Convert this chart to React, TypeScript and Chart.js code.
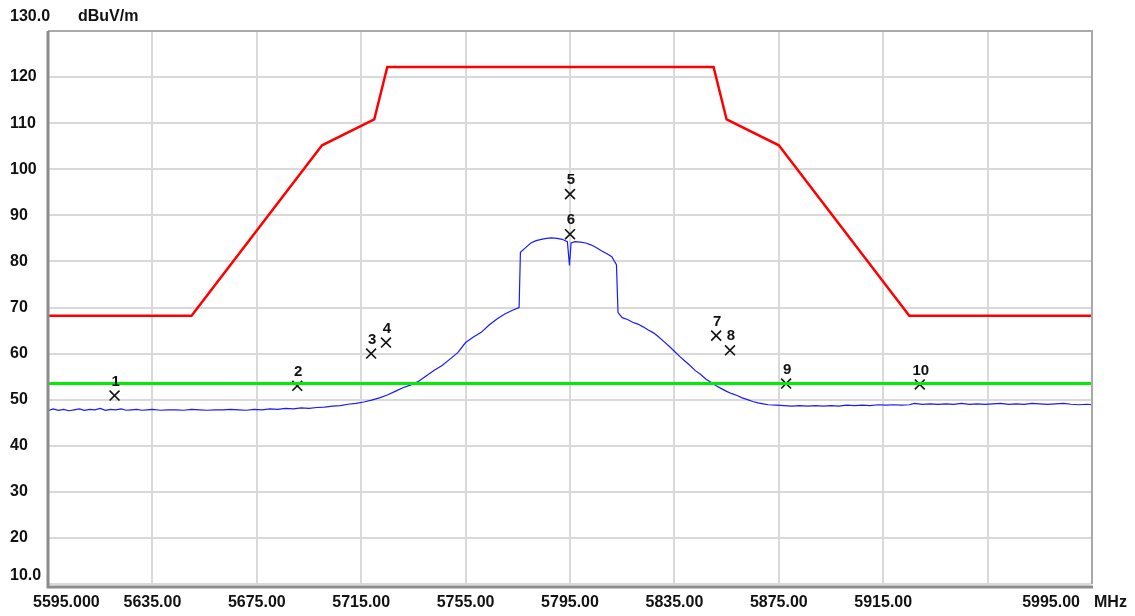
import React, { useEffect, useRef } from "react";
import { Chart, registerables } from "chart.js";

Chart.register(...registerables);

// Axis ticks
const xTicks = [5595, 5635, 5675, 5715, 5755, 5795, 5835, 5875, 5915, 5955, 5995];
const xTickLabels = ["5595.000", "5635.00", "5675.00", "5715.00", "5755.00", "5795.00", "5835.00", "5875.00", "5915.00", "", "5995.00"];
const yTicks = [10, 20, 30, 40, 50, 60, 70, 80, 90, 100, 110, 120, 130];
const yTickLabels = ["10.0", "20", "30", "40", "50", "60", "70", "80", "90", "100", "110", "120", "130.0"];
const xUnit = "MHz";
const yUnit = "dBuV/m";

// Limit mask (red)
const maskFreq = [5595, 5650, 5700, 5720, 5725, 5850, 5855, 5875, 5925, 5995];
const maskLevel = [68.2, 68.2, 105.2, 110.8, 122.2, 122.2, 110.8, 105.2, 68.2, 68.2];

// Horizontal limit (green)
const limitFreq = [5595, 5995];
const limitLevel = [53.5, 53.5];

// Measured trace (blue)
const traceFreq = [
  5595, 5597, 5599, 5601, 5603, 5605, 5607, 5609, 5611, 5613, 5615, 5617, 5619, 5621, 5623, 5625, 5627, 5629, 5631, 5633,
  5635, 5638, 5641, 5644, 5647, 5650, 5653, 5656, 5659, 5662, 5665, 5668, 5671, 5674, 5677, 5680, 5683, 5686, 5689, 5692,
  5695, 5698, 5701, 5704, 5707, 5710, 5713, 5716, 5719, 5722, 5725, 5728, 5731, 5734, 5737, 5740, 5743, 5746, 5749, 5752,
  5755, 5758, 5761, 5764, 5767, 5770, 5773, 5775.5, 5776, 5778, 5780, 5782, 5784, 5786, 5788, 5790, 5792, 5794, 5794.8, 5795.4,
  5797, 5799, 5801, 5803, 5805, 5807, 5809, 5811, 5812.8, 5813.4, 5815, 5817, 5819, 5821, 5823, 5825, 5827, 5829, 5831, 5833,
  5835, 5837, 5839, 5841, 5843, 5845, 5847, 5849, 5851, 5853, 5855, 5857, 5859, 5861, 5863, 5865, 5867, 5869, 5871, 5874,
  5877, 5880, 5883, 5886, 5889, 5892, 5895, 5898, 5901, 5904, 5907, 5910, 5913, 5916, 5919, 5922, 5925, 5927, 5930, 5933,
  5936, 5939, 5942, 5945, 5948, 5951, 5954, 5957, 5960, 5963, 5966, 5969, 5972, 5975, 5978, 5981, 5984, 5987, 5990, 5993, 5995,
];
const traceLevel = [
  47.6, 48.0, 47.7, 47.9, 47.6, 47.8, 48.0, 47.7, 47.9, 47.8, 48.1, 47.7, 47.9, 47.8, 48.0, 47.7, 47.8, 47.9, 47.7, 47.8,
  47.9, 47.7, 47.8, 47.8, 47.7, 47.9, 47.8, 47.7, 47.8, 47.8, 47.9, 47.8, 47.7, 47.9, 47.8, 48.0, 47.9, 48.1, 48.0, 48.2,
  48.1, 48.3, 48.4, 48.6, 48.7, 49.0, 49.2, 49.5, 49.9, 50.4, 51.0, 51.8, 52.6, 53.2, 54.0, 55.2, 56.4, 57.4, 58.8, 60.2,
  62.4, 63.6, 64.6, 66.2, 67.5, 68.6, 69.4, 70.0, 82.0, 83.0, 84.0, 84.5, 84.8, 85.0, 85.1, 85.0, 84.8, 84.3, 79.1, 84.0,
  84.3, 84.2, 84.0, 83.6, 83.0, 82.3, 81.7, 81.0, 79.3, 68.9, 67.8, 67.4, 66.8, 66.4, 65.8, 65.1, 64.5, 63.6, 62.6, 61.6,
  60.5, 59.4, 58.4, 57.4, 56.3, 55.5, 54.5, 53.8, 53.0, 52.4, 51.8, 51.3, 50.9, 50.4, 50.0, 49.6, 49.3, 49.1, 48.9, 48.8,
  48.7, 48.6, 48.7, 48.6, 48.7, 48.6, 48.7, 48.6, 48.8, 48.7, 48.8, 48.7, 48.9, 48.8, 48.9, 48.8, 48.9, 49.2, 49.0, 49.1,
  49.0, 49.1, 49.0, 49.2, 49.0, 49.1, 49.0, 49.1, 49.2, 49.0, 49.1, 49.0, 49.2, 49.1, 49.0, 49.1, 49.2, 49.0, 48.9, 49.0, 48.9,
];

// Markers
const markerFreq = [5620.5, 5690.5, 5718.8, 5724.5, 5795, 5795, 5851, 5856.3, 5877.8, 5929];
const markerLevel = [50.9, 53.0, 60.0, 62.4, 94.6, 85.9, 63.9, 60.7, 53.5, 53.3];
const markerLabels = ["1", "2", "3", "4", "5", "6", "7", "8", "9", "10"];

const FONT = "bold 16px 'Liberation Sans', Arial, sans-serif";
const MARK_FONT = "bold 15px 'Liberation Sans', Arial, sans-serif";

const textPlugin = {
  id: "textPlugin",
  afterDatasetsDraw(chart: any) {
    const ctx = chart.ctx as CanvasRenderingContext2D;
    const xs = chart.scales.x;
    const ys = chart.scales.y;
    ctx.save();
    ctx.fillStyle = "#111";
    ctx.font = MARK_FONT;
    ctx.textAlign = "center";
    ctx.textBaseline = "middle";
    markerFreq.forEach((f, i) => {
      const px = xs.getPixelForValue(f);
      const py = ys.getPixelForValue(markerLevel[i]);
      ctx.fillText(markerLabels[i], px + 1, py - 14);
    });
    ctx.restore();
  },
  afterDraw(chart: any) {
    const ctx = chart.ctx as CanvasRenderingContext2D;
    const area = chart.chartArea;
    const xs = chart.scales.x;
    const ys = chart.scales.y;
    ctx.save();
    // frame
    ctx.strokeStyle = "#a9a9a9";
    ctx.lineWidth = 2;
    ctx.beginPath();
    ctx.moveTo(area.left, area.top);
    ctx.lineTo(area.right, area.top);
    ctx.lineTo(area.right, area.bottom);
    ctx.stroke();
    ctx.strokeStyle = "#8c8c8c";
    ctx.lineWidth = 3;
    ctx.beginPath();
    ctx.moveTo(area.left, area.top);
    ctx.lineTo(area.left, area.bottom + 3);
    ctx.lineTo(area.right + 1, area.bottom + 3);
    ctx.stroke();

    ctx.fillStyle = "#111";
    ctx.font = FONT;
    ctx.textBaseline = "middle";
    // y labels
    ctx.textAlign = "left";
    yTicks.forEach((v, i) => {
      let py = ys.getPixelForValue(v);
      if (i === yTicks.length - 1) py = 17;
      if (i === 0) py = 576;
      ctx.fillText(yTickLabels[i], 10, py);
    });
    ctx.fillText(yUnit, 78, 17);
    // x labels
    const ly = 603;
    xTicks.forEach((v, i) => {
      const lab = xTickLabels[i];
      if (!lab) return;
      const px = xs.getPixelForValue(v);
      if (i === 0) {
        ctx.textAlign = "left";
        ctx.fillText(lab, px - 15, ly);
      } else if (i === xTicks.length - 1) {
        ctx.textAlign = "right";
        ctx.fillText(lab, px - 12, ly);
      } else {
        ctx.textAlign = "center";
        ctx.fillText(lab, px, ly);
      }
    });
    ctx.textAlign = "left";
    ctx.fillText(xUnit, area.right + 2, ly);
    ctx.restore();
  },
};

export default function App() {
  const ref = useRef<HTMLCanvasElement | null>(null);
  useEffect(() => {
    if (!ref.current) return;
    const toXY = (xs: number[], ys: number[]) => xs.map((x, i) => ({ x, y: ys[i] }));
    const chart = new Chart(ref.current, {
      type: "scatter",
      data: {
        datasets: [
          {
            label: "limit",
            data: toXY(limitFreq, limitLevel),
            showLine: true,
            borderColor: "#00ee00",
            borderWidth: 3,
            pointRadius: 0,
            order: 0,
          },
          {
            label: "markers",
            data: toXY(markerFreq, markerLevel),
            showLine: false,
            pointStyle: "crossRot",
            pointRadius: 7,
            borderColor: "#111",
            backgroundColor: "#111",
            borderWidth: 1.6,
            order: 1,
          },
          {
            label: "mask",
            data: toXY(maskFreq, maskLevel),
            showLine: true,
            borderColor: "#ff0000",
            borderWidth: 2.5,
            pointRadius: 0,
            order: 2,
          },
          {
            label: "trace",
            data: toXY(traceFreq, traceLevel),
            showLine: true,
            borderColor: "#1a1aff",
            borderWidth: 1.2,
            pointRadius: 0,
            order: 3,
          },
        ],
      },
      options: {
        animation: false,
        responsive: false,
        devicePixelRatio: 1,
        layout: { padding: { left: 48, top: 31, right: 43, bottom: 32 } },
        plugins: { legend: { display: false }, tooltip: { enabled: false } },
        scales: {
          x: {
            type: "linear",
            min: 5595,
            max: 5995,
            ticks: { display: false, stepSize: 40 },
            grid: { color: "#d9d9d9", lineWidth: 2, drawTicks: false },
            border: { display: false },
          },
          y: {
            type: "linear",
            min: 10,
            max: 130,
            ticks: { display: false, stepSize: 10 },
            grid: { color: "#d9d9d9", lineWidth: 2, drawTicks: false },
            border: { display: false },
          },
        },
      },
      plugins: [textPlugin],
    });
    return () => chart.destroy();
  }, []);
  return (
    <div style={{ position: "absolute", left: 0, top: 0, width: 1135, height: 616, background: "#fff" }}>
      <canvas ref={ref} width={1135} height={616} style={{ display: "block" }} />
    </div>
  );
}
